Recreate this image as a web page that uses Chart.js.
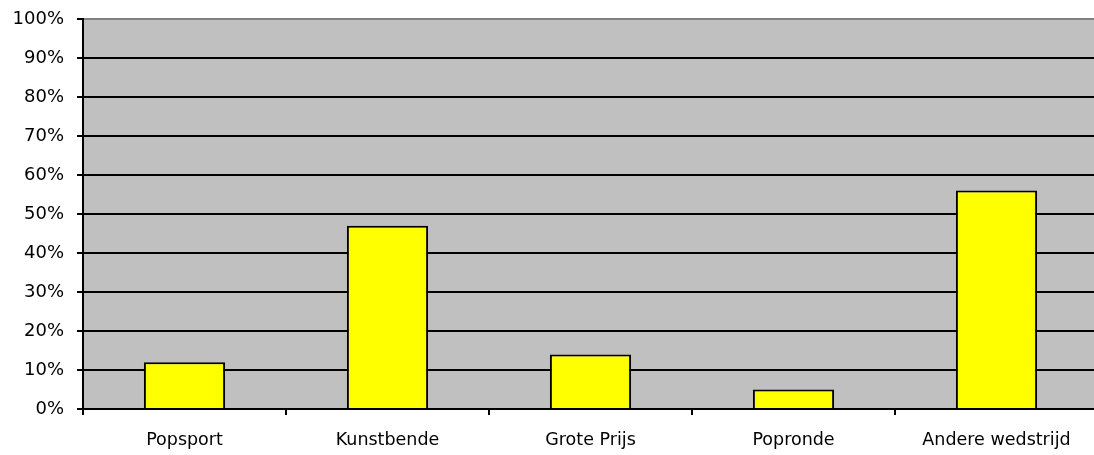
<!DOCTYPE html>
<html>
<head>
<meta charset="utf-8">
<script src="https://cdn.jsdelivr.net/npm/chart.js@4"></script>
<style>
  html, body { margin: 0; padding: 0; background: #fff; overflow: hidden; }
  #wrap { width: 1100px; height: 455px; }
</style>
</head>
<body>
<div id="wrap"><canvas id="chart"></canvas></div>
<script>
// Categories and values (percent)
const categories = ['Popsport', 'Kunstbende', 'Grote Prijs', 'Popronde', 'Andere wedstrijd'];
const percentages = [12, 47, 14, 5, 56];
const yTicks = [0, 10, 20, 30, 40, 50, 60, 70, 80, 90, 100];

// Fill the plot area grey like the old spreadsheet chart
const plotBackground = {
    id: 'plotBackground',
    beforeDraw(chart) {
        const { ctx, chartArea } = chart;
        ctx.save();
        ctx.fillStyle = '#C0C0C0';
        ctx.fillRect(chartArea.left, chartArea.top, chartArea.right - chartArea.left, chartArea.bottom - chartArea.top);
        ctx.restore();
    }
};

const yFont = { family: "'DejaVu Sans', Verdana, sans-serif", size: 18 };
const xFont = { family: "'DejaVu Sans', Verdana, sans-serif", size: 17.5 };

new Chart(document.getElementById('chart'), {
    type: 'bar',
    data: {
        labels: categories,
        datasets: [{
            data: percentages,
            backgroundColor: '#FFFF00',
            borderColor: '#000000',
            borderWidth: 2,
            borderSkipped: 'bottom',
            barPercentage: 0.4,
            categoryPercentage: 1
        }]
    },
    options: {
        responsive: true,
        maintainAspectRatio: false,
        animation: false,
        layout: { padding: { top: 19, right: 2, left: 0, bottom: 0 } },
        plugins: {
            legend: { display: false },
            tooltip: { enabled: false }
        },
        scales: {
            x: {
                offset: true,
                afterFit(scale) {
                    scale.height = 46;
                    scale.paddingLeft = 0;
                    scale.paddingRight = 0;
                },
                grid: {
                    offset: true,
                    drawOnChartArea: false,
                    drawTicks: true,
                    tickLength: 6,
                    color: '#000',
                    lineWidth: 2
                },
                border: { color: '#000', width: 2 },
                ticks: { color: '#000', font: xFont, padding: 15 }
            },
            y: {
                min: 0,
                max: 100,
                afterFit(scale) {
                    scale.width = 83;
                    scale.paddingTop = 0;
                    scale.paddingBottom = 0;
                },
                afterBuildTicks(scale) {
                    scale.ticks = yTicks.map(v => ({ value: v }));
                },
                grid: {
                    color: ctx => ctx.tick && ctx.tick.value === 100 ? '#808080' : '#000',
                    lineWidth: 2,
                    tickLength: 6,
                    tickColor: '#000'
                },
                border: { color: '#000', width: 2 },
                ticks: {
                    color: '#000',
                    font: yFont,
                    padding: 13,
                    callback: v => v + '%'
                }
            }
        }
    },
    plugins: [plotBackground]
});
</script>
</body>
</html>
